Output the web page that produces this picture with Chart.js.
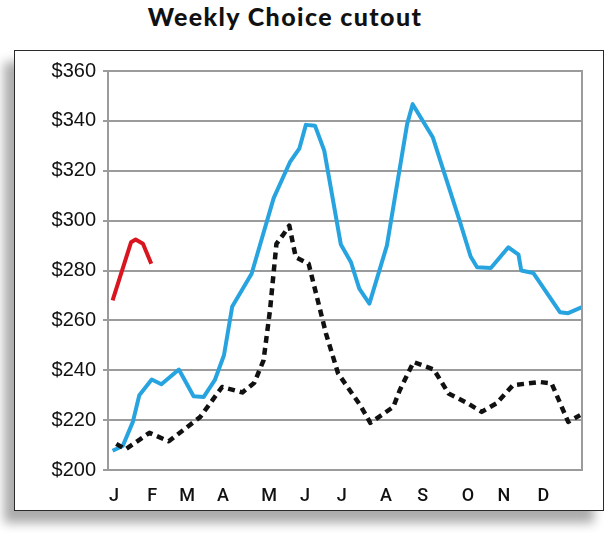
<!DOCTYPE html>
<html>
<head>
<meta charset="utf-8">
<script src="https://cdn.jsdelivr.net/npm/chart.js@4.4.1/dist/chart.umd.min.js"></script>
<style>
  body { margin: 0; background: #fff; width: 610px; height: 538px; overflow: hidden; }
  #titulo {
    position: absolute; left: 0; top: 0; width: 570px; text-align: center;
    font-family: Lato, "Noto Sans", sans-serif; font-weight: 900; font-size: 25px;
    letter-spacing: 1.4px; color: #111; line-height: 32px;
  }
  #caixa {
    position: absolute; left: 14px; top: 50px; width: 588px; height: 459px;
    border: 1.5px solid #2a2a2a; background: #fff;
    box-shadow: -10px 12px 10px rgba(0, 0, 0, 0.33);
  }
  #grafico { position: absolute; left: 0; top: 0; }
</style>
</head>
<body>
<div id="titulo">Weekly Choice cutout</div>
<div id="caixa"></div>
<canvas id="grafico" width="610" height="538"></canvas>
<script>
// semanas (x) e valores ($/cwt)
const semanasAzul = [1.0, 2.1, 3.2, 3.9, 5.25, 6.3, 8.2, 9.8, 10.9, 12.1, 13.1, 14.0, 16.1, 18.5, 20.3, 21.3, 22.0, 23.0, 24.0, 25.8, 26.9, 27.8, 28.9, 30.8, 33.0, 33.6, 35.8, 38.7, 39.9, 40.6, 42.1, 44.0, 45.1, 45.4, 46.7, 49.6, 50.5, 52.0]
const valoresAzul = [207.7, 209.6, 219.3, 230, 236.3, 234.4, 240.3, 229.6, 229.3, 236, 246, 265.6, 278.7, 309, 323.7, 329, 338.4, 338, 328, 290.4, 283.3, 272.7, 266.7, 290, 338.7, 346.7, 333.3, 300, 285.6, 281.3, 281, 289.3, 286.4, 280, 279, 263.3, 262.9, 265.3]

const semanasVermelho = [1.0, 3.0, 3.5, 4.3, 5.2]
const valoresVermelho = [268, 291.3, 292.4, 290.7, 282.7]

const semanasPreto = [1.4, 2.4, 5.0, 7.1, 10.5, 12.9, 15.1, 16.4, 17.4, 18.1, 18.8, 19.6, 20.2, 20.9, 22.3, 24.2, 25.5, 27.9, 29.0, 31.5, 32.2, 33.7, 35.9, 37.5, 39.6, 41.1, 42.7, 44.5, 47.4, 48.7, 50.5, 51.8]
const valoresPreto = [210.5, 208.3, 214.9, 211.5, 221.2, 233.3, 231.1, 235, 244, 264, 290.7, 294.7, 298, 285.3, 282.7, 254.5, 238.7, 226, 218.9, 225.3, 232, 243.3, 240.3, 230.7, 226.7, 223.3, 226.7, 234, 235.3, 234.7, 219.3, 222]

const meses = ['J', 'F', 'M', 'A', 'M', 'J', 'J', 'A', 'S', 'O', 'N', 'D']
const semanasMeses = [1.15, 5.3, 9.1, 13.0, 18.0, 21.9, 25.9, 30.7, 34.7, 39.6, 43.5, 47.8]

function pontos(xs, ys){
    let data = []
    for(let i = 0; i < xs.length; i++){
        data.push({ x: xs[i], y: ys[i] })
    }
    return data
}

const moldura = {
    id: 'moldura',
    afterDraw(chart){
        const { ctx, chartArea } = chart
        ctx.save()
        ctx.strokeStyle = '#9b9b9b'
        ctx.lineWidth = 2
        ctx.strokeRect(chartArea.left, chartArea.top, chartArea.right - chartArea.left, chartArea.bottom - chartArea.top)
        ctx.restore()
    }
}

function plotaGrafico(){
    const datasets = [
        {
            label: 'anterior',
            data: pontos(semanasPreto, valoresPreto),
            borderColor: '#111111',
            borderWidth: 4.5,
            borderDash: [7, 5],
            order: 0
        },
        {
            label: 'atual',
            data: pontos(semanasVermelho, valoresVermelho),
            borderColor: '#d9161f',
            borderWidth: 4,
            order: 1
        },
        {
            label: 'media',
            data: pontos(semanasAzul, valoresAzul),
            borderColor: '#27a4df',
            borderWidth: 4,
            order: 2
        }
    ]
    const config = {
        type: 'line',
        data: { datasets: datasets },
        plugins: [moldura],
        options: {
            responsive: false,
            animation: false,
            layout: { padding: { left: 0, right: 28, top: 71, bottom: 30 } },
            elements: {
                point: { radius: 0 },
                line: { tension: 0, borderCapStyle: 'butt', borderJoinStyle: 'round' }
            },
            plugins: {
                legend: { display: false },
                tooltip: { enabled: false }
            },
            scales: {
                x: {
                    type: 'linear',
                    min: 0.5,
                    max: 52,
                    afterBuildTicks: (scale) => {
                        scale.ticks = semanasMeses.map(v => ({ value: v }))
                    },
                    afterFit: (scale) => { scale.height = 38 },
                    grid: { display: false },
                    border: { display: false },
                    ticks: {
                        autoSkip: false,
                        maxRotation: 0,
                        padding: 8,
                        color: '#111',
                        font: { family: 'Roboto, "Liberation Sans", sans-serif', size: 18, weight: '500' },
                        callback: (v, i) => meses[i]
                    }
                },
                y: {
                    min: 200,
                    max: 360,
                    afterFit: (scale) => { scale.width = 108 },
                    grid: { color: '#9b9b9b', lineWidth: 2, tickLength: 5, drawTicks: true },
                    border: { display: false },
                    ticks: {
                        stepSize: 20,
                        padding: 7,
                        color: '#111',
                        font: { family: '"Liberation Sans", Arial, sans-serif', size: 20 },
                        callback: (v) => '$' + v
                    }
                }
            }
        }
    }
    const grafico = document.getElementById('grafico')
    return new Chart(grafico, config)
}

plotaGrafico()
</script>
</body>
</html>
